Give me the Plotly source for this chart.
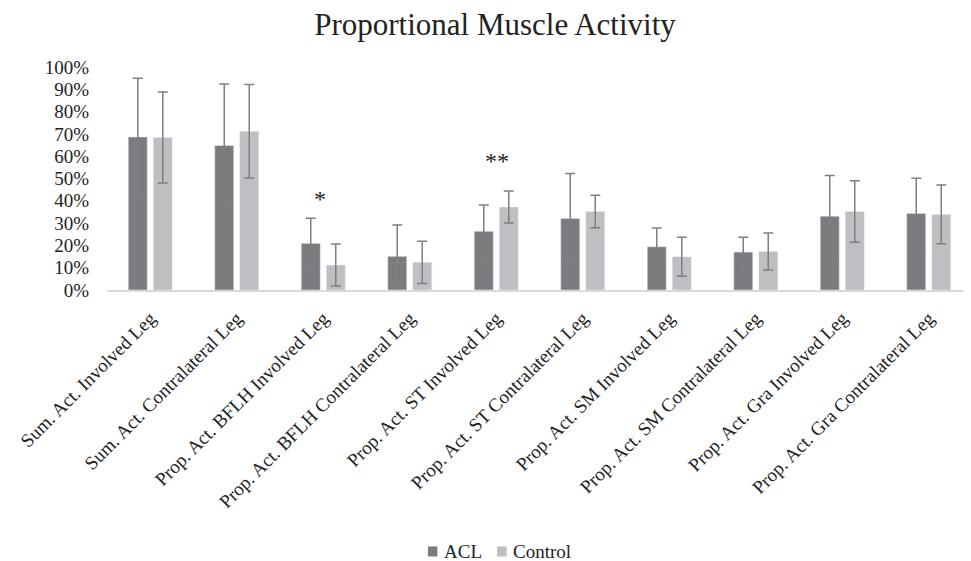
import plotly.graph_objects as go

categories = ["Sum. Act. Involved Leg", "Sum. Act. Contralateral Leg",
              "Prop. Act. BFLH Involved Leg", "Prop. Act. BFLH Contralateral Leg",
              "Prop. Act. ST Involved Leg", "Prop. Act. ST Contralateral Leg",
              "Prop. Act. SM Involved Leg", "Prop. Act. SM Contralateral Leg",
              "Prop. Act. Gra Involved Leg", "Prop. Act. Gra Contralateral Leg"]
acl_mean = [0.686, 0.648, 0.209, 0.151, 0.263, 0.321, 0.194, 0.170, 0.331, 0.343]
acl_sd = [0.263, 0.276, 0.113, 0.140, 0.118, 0.201, 0.084, 0.067, 0.182, 0.158]
ctrl_mean = [0.684, 0.712, 0.112, 0.124, 0.372, 0.352, 0.149, 0.173, 0.352, 0.339]
ctrl_sd = [0.204, 0.210, 0.094, 0.095, 0.072, 0.073, 0.087, 0.083, 0.138, 0.132]
series_names = ["ACL", "Control"]
series_colors = ["#7b7c7f", "#bebfc2"]
marks = [(2, "*", 0.407, -3), (4, "**", 0.578, 1)]

font = "Liberation Serif, Times New Roman, serif"
W, H = 964, 553  # page body has an 8px margin
fig = go.Figure()
for name, col, m, sd in zip(series_names, series_colors, [acl_mean, ctrl_mean], [acl_sd, ctrl_sd]):
    fig.add_trace(go.Bar(name=name, x=categories, y=m, marker_color=col, showlegend=False,
                         error_y=dict(type="data", array=sd, color="#7f7f7f", thickness=1.5, width=5)))
for i, t, yv, xs in marks:
    fig.add_annotation(x=categories[i], y=yv, text=t, showarrow=False, xshift=xs,
                       font=dict(family=font, size=24, color="#222222"))

# custom legend (squares + labels) below the plot
leg = [(0.371, 0.382, 0.387), (0.451, 0.462, 0.467)]
for (x0, x1, xt), name, col in zip(leg, series_names, series_colors):
    fig.add_shape(type="rect", xref="paper", yref="paper", x0=x0, x1=x1,
                  y0=-1.195, y1=-1.150, fillcolor=col, line_width=0)
    fig.add_annotation(xref="paper", yref="paper", x=xt, y=-1.172, xanchor="left",
                       yanchor="middle", text=name, showarrow=False,
                       font=dict(family=font, size=19, color="#222222"))

fig.update_layout(
    width=W, height=H,
    title=dict(text="Proportional Muscle Activity", x=487 / W, xanchor="center",
               y=1 - 16 / H, yanchor="middle",
               font=dict(family=font, size=31, color="#222222")),
    font=dict(family=font, size=18, color="#222222"),
    paper_bgcolor="white", plot_bgcolor="white",
    margin=dict(l=99, r=0, t=59, b=271, autoexpand=False),
    barmode="group", bargap=0.422, bargroupgap=0.24,
    showlegend=False,
    xaxis=dict(tickangle=-45, showline=True, linecolor="#d9d9d9", linewidth=1.5,
               ticks="", automargin=False, ticklabelstandoff=8,
               tickfont=dict(family=font, size=19)),
    yaxis=dict(range=[0, 1], dtick=0.1, tickformat=".0%", showgrid=False,
               zeroline=False, showline=False, automargin=False, ticklabelstandoff=17,
               tickfont=dict(family=font, size=19)),
)
fig.write_html("out.html")
